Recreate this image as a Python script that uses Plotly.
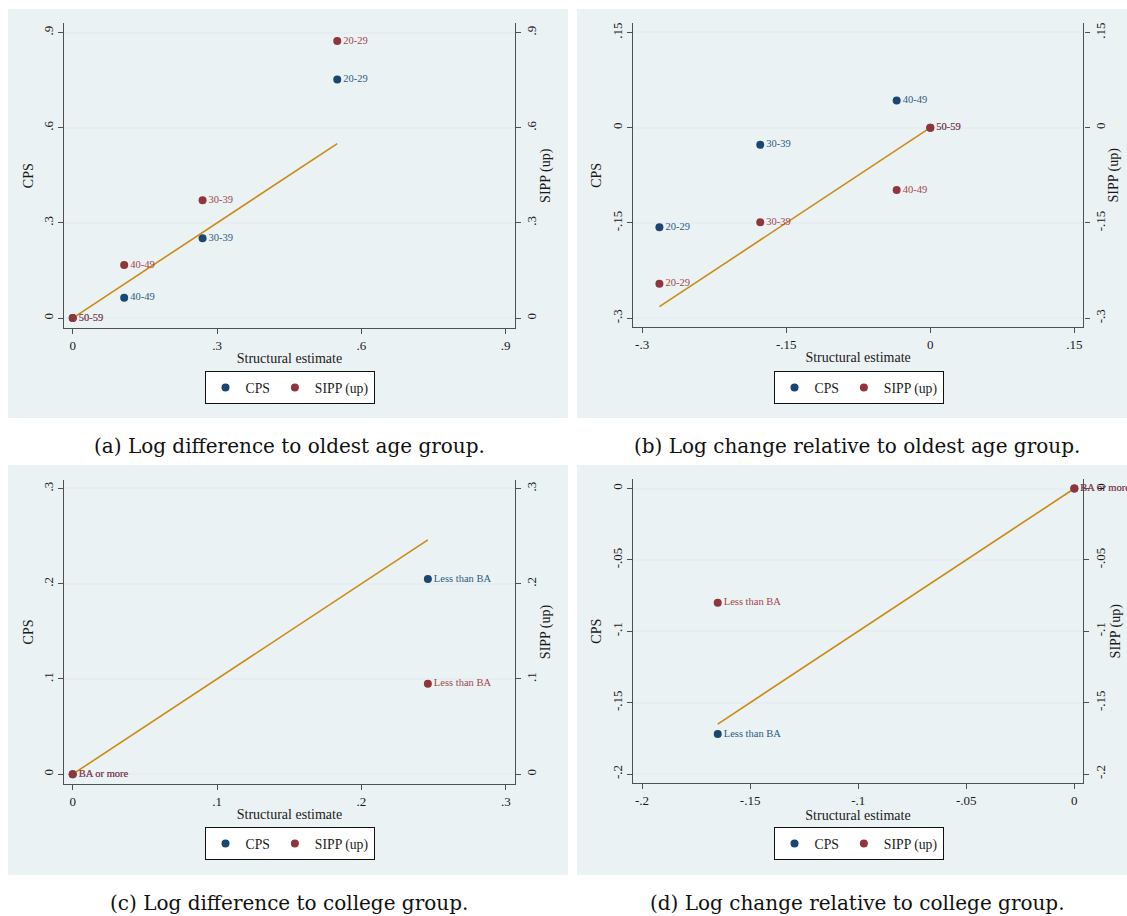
import plotly.graph_objects as go

# ---------------- data ----------------
age_groups = ["20-29", "30-39", "40-49", "50-59"]
a_struct = [0.550, 0.270, 0.107, 0.0]
a_cps = [0.752, 0.252, 0.064, 0.0]
a_sipp = [0.873, 0.371, 0.167, 0.0]

b_struct = [-0.282, -0.177, -0.035, 0.0]
b_cps = [-0.157, -0.027, 0.043, 0.0]
b_sipp = [-0.246, -0.149, -0.098, 0.0]

edu_groups = ["Less than BA", "BA or more"]
c_struct = [0.246, 0.0]
c_cps = [0.205, 0.0]
c_sipp = [0.095, 0.0]

d_struct = [-0.165, 0.0]
d_cps = [-0.172, 0.0]
d_sipp = [-0.080, 0.0]

ticks_a = [0, 0.3, 0.6, 0.9]
ticklab_a = ["0", ".3", ".6", ".9"]
ticks_b = [-0.3, -0.15, 0, 0.15]
ticklab_b = ["-.3", "-.15", "0", ".15"]
ticks_c = [0, 0.1, 0.2, 0.3]
ticklab_c = ["0", ".1", ".2", ".3"]
ticks_d = [-0.2, -0.15, -0.1, -0.05, 0]
ticklab_d = ["-.2", "-.15", "-.1", "-.05", "0"]

captions = [
    "(a) Log difference to oldest age group.",
    "(b) Log change relative to oldest age group.",
    "(c) Log difference to college group.",
    "(d) Log change relative to college group.",
]

# ---------------- style ----------------
W, H = 1127, 916
NAVY = "#1A476F"
MAROON = "#90353B"
NAVY_TXT = "#2E5A84"
MAROON_TXT = "#A3454B"
ORANGE = "#CC8A12"
BOX = "#EAF2F3"
GRID = "#E6EEF1"
AX = "#505050"
FONT = "Liberation Serif"
CAPFONT = "DejaVu Serif"


def px(x):
    return x / W


def py(y):
    return 1 - y / H


panels = [
    dict(groups=age_groups, s=a_struct, c=a_cps, p=a_sipp, tv=ticks_a, tt=ticklab_a,
         dom_x=(64.4, 514.5), dom_y=(23.4, 328.0), xr=(-0.0173, 0.9185), yr=(-0.0312, 0.9287),
         box=(8, 9, 568, 418), leg=(289.5, 371), cap=(289, 446)),
    dict(groups=age_groups, s=b_struct, c=b_cps, p=b_sipp, tv=ticks_b, tt=ticklab_b,
         dom_x=(632.9, 1083.3), dom_y=(23.4, 327.2), xr=(-0.3096, 0.1593), yr=(-0.3143, 0.1643),
         box=(577, 9, 1127, 418), leg=(858.5, 371), cap=(857, 446)),
    dict(groups=edu_groups, s=c_struct, c=c_cps, p=c_sipp, tv=ticks_c, tt=ticklab_c,
         dom_x=(64.4, 514.5), dom_y=(480.0, 783.9), xr=(-0.00575, 0.306), yr=(-0.0102, 0.3089),
         box=(8, 465, 568, 875), leg=(289.5, 827), cap=(289, 903)),
    dict(groups=edu_groups, s=d_struct, c=d_cps, p=d_sipp, tv=ticks_d, tt=ticklab_d,
         dom_x=(633.0, 1083.0), dom_y=(479.4, 783.0), xr=(-0.2042, 0.0040), yr=(-0.2063, 0.0064),
         box=(577, 465, 1127, 875), leg=(858.5, 827), cap=(857, 903)),
]

fig = go.Figure()
layout = dict(
    width=W, height=H,
    margin=dict(l=0, r=0, t=0, b=0),
    paper_bgcolor="white", plot_bgcolor="white",
    font=dict(family=FONT, size=13, color="#1a1a1a"),
    shapes=[], annotations=[],
)

for i, P in enumerate(panels):
    k = i + 1
    xa = "x" if k == 1 else f"x{k}"
    ya = f"y{2*k-1}" if k > 1 else "y"
    ya2 = f"y{2*k}"
    leg = "legend" if k == 1 else f"legend{k}"

    # background box
    x0, y0, x1, y1 = P["box"]
    layout["shapes"].append(dict(type="rect", xref="paper", yref="paper",
                                 x0=px(x0), x1=px(x1), y0=py(y1), y1=py(y0),
                                 fillcolor=BOX, line=dict(width=0), layer="below"))

    fig.add_trace(go.Scatter(
        x=P["s"], y=P["c"], mode="markers+text", name="CPS",
        text=P["groups"], textposition="middle right",
        textfont=dict(family=FONT, size=10.5, color=NAVY_TXT),
        marker=dict(color=NAVY, size=8), cliponaxis=False,
        xaxis=xa, yaxis=ya, legend=leg, showlegend=True))
    fig.add_trace(go.Scatter(
        x=P["s"], y=P["p"], mode="markers+text", name="SIPP (up)",
        text=P["groups"], textposition="middle right",
        textfont=dict(family=FONT, size=10.5, color=MAROON_TXT),
        marker=dict(color=MAROON, size=8), cliponaxis=False,
        xaxis=xa, yaxis=ya2, legend=leg, showlegend=True))
    lx = [min(P["s"]), max(P["s"])]
    fig.add_trace(go.Scatter(
        x=lx, y=lx, mode="lines", line=dict(color=ORANGE, width=1.6),
        xaxis=xa, yaxis=ya, showlegend=False, hoverinfo="skip"))

    xkey = "xaxis" if k == 1 else f"xaxis{k}"
    ykey = "yaxis" if k == 1 else f"yaxis{2*k-1}"
    y2key = f"yaxis{2*k}"
    dx = (px(P["dom_x"][0]), px(P["dom_x"][1]))
    dy = (py(P["dom_y"][1]), py(P["dom_y"][0]))
    tickfont = dict(family=FONT, size=13, color="#1a1a1a")
    titlefont = dict(family=FONT, size=14, color="#1a1a1a")
    layout[xkey] = dict(
        domain=dx, anchor=ya, range=list(P["xr"]), tickvals=P["tv"], ticktext=P["tt"],
        showgrid=False, zeroline=False, showline=True, linecolor=AX, linewidth=1.4,
        ticks="outside", ticklen=5, tickcolor=AX, tickwidth=1.2, tickfont=tickfont,
        title=dict(text="Structural estimate", font=titlefont, standoff=1))
    layout[ykey] = dict(
        domain=dy, anchor=xa, range=list(P["yr"]), tickvals=P["tv"], ticktext=P["tt"],
        showgrid=True, gridcolor=GRID, gridwidth=1.5, zeroline=False,
        showline=True, linecolor=AX, linewidth=1.4,
        ticks="outside", ticklen=5, tickcolor=AX, tickwidth=1.2, tickangle=-90,
        tickfont=tickfont, title=dict(text="CPS", font=titlefont, standoff=4))
    layout[y2key] = dict(
        overlaying=ya, anchor=xa, side="right", range=list(P["yr"]),
        tickvals=P["tv"], ticktext=P["tt"],
        showgrid=False, zeroline=False, showline=True, linecolor=AX, linewidth=1.4,
        ticks="outside", ticklen=5, tickcolor=AX, tickwidth=1.2, tickangle=-90,
        tickfont=tickfont, title=dict(text="SIPP (up)", font=titlefont, standoff=1))

    lxc, lyt = P["leg"]
    layout[leg] = dict(
        x=px(lxc), y=py(lyt), xanchor="center", yanchor="top", orientation="h",
        bgcolor="white", bordercolor="#111", borderwidth=1,
        font=dict(family=FONT, size=13.7, color="#1a1a1a"),
        itemwidth=30, tracegroupgap=0)

    cx, cy = P["cap"]
    layout["annotations"].append(dict(
        text=captions[i], x=px(cx), y=py(cy), xref="paper", yref="paper",
        xanchor="center", yanchor="middle", showarrow=False,
        font=dict(family=CAPFONT, size=20, color="#111")))

fig.update_layout(**layout)
fig.write_html("out.html")
